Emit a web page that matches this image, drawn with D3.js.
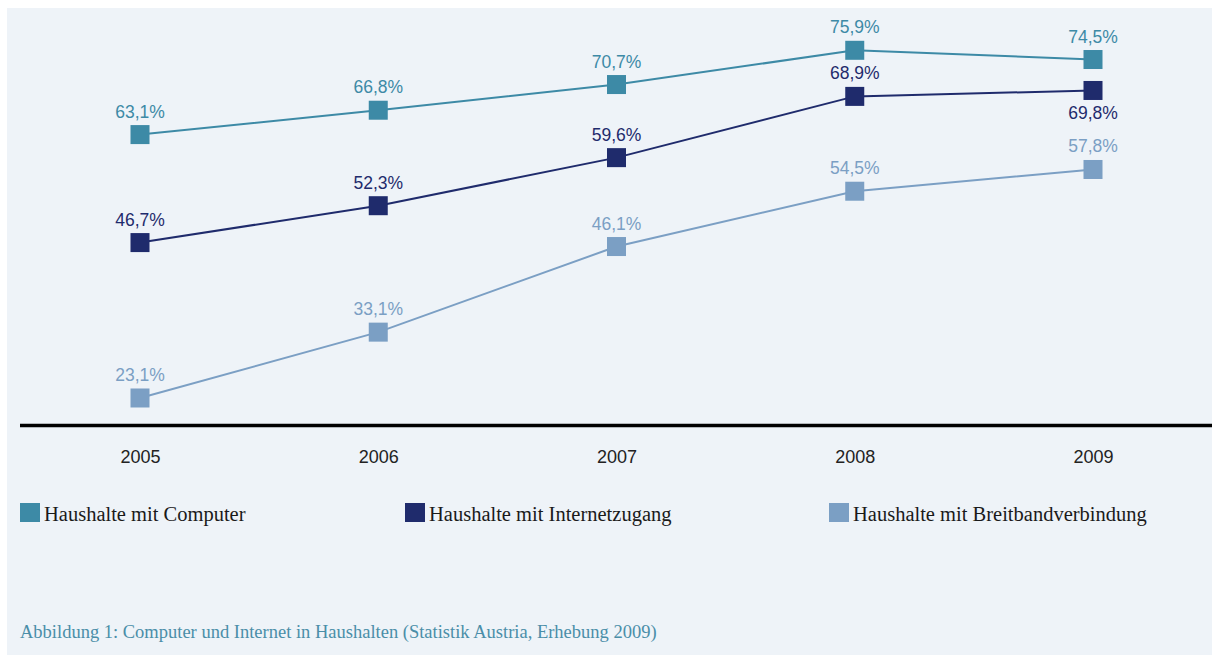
<!DOCTYPE html>
<html>
<head>
<meta charset="utf-8">
<script src="https://cdn.jsdelivr.net/npm/d3@7"></script>
<style>
  body { margin: 0; background: #fff; }
  .val { font-family: "Liberation Sans", sans-serif; font-size: 17.5px; }
  .year { font-family: "Liberation Sans", sans-serif; font-size: 18px; fill: #222; }
  .legend { font-family: "Liberation Serif", serif; font-size: 20.5px; fill: #1a1a1a; }
  .caption { font-family: "Liberation Serif", serif; font-size: 18.5px; fill: #4a8ea8; }
</style>
</head>
<body>
<script>
// data
var years = ["2005", "2006", "2007", "2008", "2009"];
var computer = [63.1, 66.8, 70.7, 75.9, 74.5];
var internet = [46.7, 52.3, 59.6, 68.9, 69.8];
var broadband = [23.1, 33.1, 46.1, 54.5, 57.8];
var seriesNames = ["Haushalte mit Computer", "Haushalte mit Internetzugang", "Haushalte mit Breitbandverbindung"];
var colors = ["#3d8aa6", "#1f2b6c", "#7b9fc4"];
var caption = "Abbildung 1: Computer und Internet in Haushalten (Statistik Austria, Erhebung 2009)";

var W = 1212, H = 657;

var svg = d3.select("body").append("svg")
  .attr("width", W)
  .attr("height", H);

// light panel behind everything
svg.append("rect")
  .attr("x", 7).attr("y", 8)
  .attr("width", W - 7).attr("height", 647)
  .attr("fill", "#eef3f8");

var x = d3.scalePoint()
  .domain(years)
  .range([140, 1093]);

var y = d3.scaleLinear()
  .domain([20, 80])
  .range([418.4, 23.3]);

var series = [computer, internet, broadband].map(function(vals, i) {
  return {
    name: seriesNames[i],
    color: colors[i],
    points: vals.map(function(v, j) { return {year: years[j], value: v}; })
  };
});

// baseline / x axis
var axis = svg.append("g")
  .attr("transform", "translate(0,425.5)")
  .call(d3.axisBottom(x).tickSize(0).tickPadding(0));
axis.select(".domain").remove();
axis.append("line")
  .attr("x1", 20).attr("x2", W)
  .attr("stroke", "#000").attr("stroke-width", 3.5);
axis.selectAll(".tick text")
  .attr("class", "year")
  .attr("y", 37.5)
  .attr("dy", null)
  .attr("fill", "#222");

var line = d3.line()
  .x(function(d) { return x(d.year); })
  .y(function(d) { return y(d.value); });

var g = svg.selectAll("g.series")
  .data(series)
  .enter().append("g")
  .attr("class", "series");

g.append("path")
  .attr("d", function(d) { return line(d.points); })
  .attr("fill", "none")
  .attr("stroke", function(d) { return d.color; })
  .attr("stroke-width", 2);

var ms = 19;
g.selectAll("rect")
  .data(function(d) { return d.points.map(function(p) { return {p: p, c: d.color}; }); })
  .enter().append("rect")
  .attr("x", function(d) { return x(d.p.year) - ms / 2; })
  .attr("y", function(d) { return y(d.p.value) - ms / 2; })
  .attr("width", ms).attr("height", ms)
  .attr("fill", function(d) { return d.c; });

// value labels, the 2009 internet one sits under its marker
g.selectAll("text")
  .data(function(d, i) { return d.points.map(function(p, j) { return {p: p, c: d.color, below: i === 1 && j === 4}; }); })
  .enter().append("text")
  .attr("class", "val")
  .attr("x", function(d) { return x(d.p.year); })
  .attr("y", function(d) { return y(d.p.value) + (d.below ? 29 : -17); })
  .attr("text-anchor", "middle")
  .attr("fill", function(d) { return d.c; })
  .text(function(d) { return d.p.value.toFixed(1).replace(".", ",") + "%"; });

// legend
var legendX = [20, 405, 829];
var lg = svg.selectAll("g.legend")
  .data(series)
  .enter().append("g")
  .attr("transform", function(d, i) { return "translate(" + legendX[i] + ",503)"; });
lg.append("rect")
  .attr("width", 20).attr("height", 19)
  .attr("fill", function(d) { return d.color; });
lg.append("text")
  .attr("class", "legend")
  .attr("x", 24).attr("y", 18)
  .text(function(d) { return d.name; });

svg.append("text")
  .attr("class", "caption")
  .attr("x", 20).attr("y", 638)
  .text(caption);
</script>
</body>
</html>
